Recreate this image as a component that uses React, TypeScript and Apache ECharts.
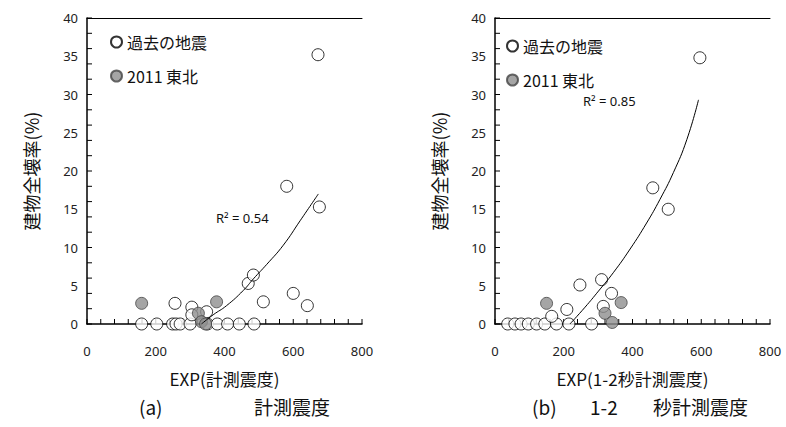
import React, { useEffect, useRef } from "react";
import * as echarts from "echarts";

// ---------- data ----------
const seriesPast = "過去の地震";
const seriesTohoku = "2011 東北";

// (a) 計測震度
const pastA: number[][] = [
  [159, 0], [203, 0], [249, 0], [259, 0], [271, 0], [300, 0], [350, 0],
  [379, 0], [409, 0], [443, 0], [486, 0],
  [256, 2.7], [305, 2.2], [305, 1.2], [348, 1.6], [469, 5.3], [484, 6.4],
  [513, 2.9], [581, 18.0], [676, 15.3], [672, 35.2], [600, 4.0], [641, 2.4],
];
const tohokuA: number[][] = [
  [159, 2.7], [324, 1.4], [377, 2.9], [333, 0.3], [345, 0],
];
const trendA: number[][] = [
  [333, 0], [367, 1.2], [406, 2.4], [455, 4.4], [484, 5.9], [523, 7.8],
  [571, 10.3], [620, 13.5], [673, 17.0],
];

// (b) 1-2 秒計測震度
const pastB: number[][] = [
  [37, 0], [58, 0], [76, 0], [97, 0], [121, 0], [145, 0], [179, 0], [215, 0], [281, 0],
  [165, 1.0], [209, 1.9], [247, 5.1], [310, 5.8], [339, 4.0], [315, 2.3],
  [459, 17.8], [504, 15.0], [596, 34.8],
];
const tohokuB: number[][] = [
  [150, 2.7], [367, 2.8], [320, 1.4], [341, 0.2],
];
const trendB: number[][] = [
  [218, 0], [262, 2.2], [301, 4.3], [344, 6.7], [393, 9.8], [441, 13.2],
  [480, 16.3], [519, 19.8], [558, 24.1], [592, 29.3],
];

// small inward tick marks of the axes
const xTickValues: number[] = [
  0, 40, 80, 120, 160, 200, 240, 280, 320, 360, 400,
  440, 480, 520, 560, 600, 640, 680, 720, 760, 800,
];
const yTickValues: number[] = [
  0, 2, 4, 6, 8, 10, 12, 14, 16, 18, 20,
  22, 24, 26, 28, 30, 32, 34, 36, 38, 40,
];

const r2A = "R² = 0.54";
const r2B = "R² = 0.85";
const xTitleA = "EXP(計測震度)";
const xTitleB = "EXP(1-2秒計測震度)";
const yTitle = "建物全壊率(%)";
const captionTagA = "(a)";
const captionA = "計測震度";
const captionTagB = "(b)";
const captionB1 = "1-2";
const captionB2 = "秒計測震度";

const X_MIN = 0, X_MAX = 800, X_INT = 200;
const Y_MIN = 0, Y_MAX = 40, Y_INT = 5;
const TICK_LEN = 5;

const CJK = "'Noto Sans CJK JP', 'Noto Sans', sans-serif";
const LAT = "'Noto Sans', 'Open Sans', sans-serif";

export default function App() {
  const ref = useRef<HTMLDivElement>(null);
  useEffect(() => {
    if (!ref.current) return;
    const chart = echarts.init(ref.current, undefined, { renderer: "svg" });

    const mainX = (gridIndex: number, name: string) => ({
      type: "value", gridIndex, position: "bottom", min: X_MIN, max: X_MAX, interval: X_INT,
      name, nameLocation: "middle", nameGap: 46,
      nameTextStyle: { fontFamily: CJK, fontSize: 17, color: "#111" },
      axisLine: { show: true, lineStyle: { color: "#000", width: 1.5 } },
      axisTick: { show: false },
      axisLabel: { margin: 20, fontFamily: LAT, fontSize: 13, color: "#222" },
      splitLine: { show: false },
    });
    const topX = (gridIndex: number) => ({
      type: "value", gridIndex, position: "top", min: X_MIN, max: X_MAX,
      axisLine: { show: true, lineStyle: { color: "#000", width: 1 } },
      axisTick: { show: false }, axisLabel: { show: false }, splitLine: { show: false },
    });
    const mainY = (gridIndex: number) => ({
      type: "value", gridIndex, position: "left", min: Y_MIN, max: Y_MAX, interval: Y_INT,
      name: yTitle, nameLocation: "middle", nameGap: 47, nameRotate: 90,
      nameTextStyle: { fontFamily: CJK, fontSize: 18, color: "#111" },
      axisLine: { show: true, lineStyle: { color: "#000", width: 1.5 } },
      axisTick: { show: false },
      axisLabel: { margin: 9, fontFamily: LAT, fontSize: 13, color: "#222" },
      splitLine: { show: false },
    });

    const pastStyle = { color: "#fff", borderColor: "#000", borderWidth: 1 };
    const tohokuStyle = { color: "#8f8f8f", borderColor: "#444", borderWidth: 1 };

    const tickSeries = (xi: number, yi: number) => [
      {
        name: "xTicks", type: "custom", xAxisIndex: xi, yAxisIndex: yi, silent: true, z: 2,
        clip: false,
        data: xTickValues.map((v) => [v, Y_MIN]),
        renderItem: (params: any, api: any) => {
          const p = api.coord([api.value(0), api.value(1)]);
          return {
            type: "line",
            shape: { x1: p[0], y1: p[1], x2: p[0], y2: p[1] - TICK_LEN },
            style: { stroke: "#000", lineWidth: 1 },
          };
        },
      },
      {
        name: "yTicks", type: "custom", xAxisIndex: xi, yAxisIndex: yi, silent: true, z: 2,
        clip: false,
        data: yTickValues.map((v) => [X_MIN, v]),
        renderItem: (params: any, api: any) => {
          const p = api.coord([api.value(0), api.value(1)]);
          return {
            type: "line",
            shape: { x1: p[0], y1: p[1], x2: p[0] + TICK_LEN, y2: p[1] },
            style: { stroke: "#000", lineWidth: 1 },
          };
        },
      },
    ];

    const mk = (xi: number, yi: number, past: number[][], toh: number[][], trend: number[][]) => [
      ...tickSeries(xi, yi),
      {
        name: seriesPast, type: "scatter", xAxisIndex: xi, yAxisIndex: yi,
        data: past, symbol: "circle", symbolSize: 12, itemStyle: pastStyle, z: 3,
      },
      {
        name: seriesTohoku, type: "scatter", xAxisIndex: xi, yAxisIndex: yi,
        data: toh, symbol: "circle", symbolSize: 12, itemStyle: tohokuStyle, z: 4,
      },
      {
        name: "trend", type: "line", xAxisIndex: xi, yAxisIndex: yi,
        data: trend, smooth: true, showSymbol: false, symbol: "none",
        lineStyle: { color: "#000", width: 1 }, z: 5, silent: true,
      },
    ];

    const legend = (left: number, top: number) => ({
      left, top, orient: "vertical", padding: 0, itemGap: 14,
      itemWidth: 11, itemHeight: 11,
      data: [seriesPast, seriesTohoku],
      textStyle: { fontFamily: CJK, fontSize: 16, color: "#111", lineHeight: 20 },
    });

    const cap = (text: string, left: number) => ({
      type: "text", left, top: 397, style: { text, font: `19px ${CJK}`, fill: "#111" },
    });

    chart.setOption({
      animation: false,
      backgroundColor: "#fff",
      grid: [
        { left: 87, top: 18, width: 275, height: 306 },
        { left: 495, top: 18, width: 275, height: 306 },
      ],
      xAxis: [mainX(0, xTitleA), topX(0), mainX(1, xTitleB), topX(1)],
      yAxis: [mainY(0), mainY(1)],
      legend: [legend(110, 32), legend(506, 36)],
      series: [...mk(0, 0, pastA, tohokuA, trendA), ...mk(2, 1, pastB, tohokuB, trendB)],
      graphic: [
        { type: "text", left: 216, top: 211, style: { text: r2A, font: `13px ${LAT}`, fill: "#111" } },
        { type: "text", left: 583, top: 94, style: { text: r2B, font: `13px ${LAT}`, fill: "#111" } },
        cap(captionTagA, 139),
        cap(captionA, 254),
        cap(captionTagB, 532),
        cap(captionB1, 590),
        cap(captionB2, 653),
      ],
    });
    return () => chart.dispose();
  }, []);
  return (
    <div
      ref={ref}
      style={{ position: "fixed", left: 0, top: 0, width: 786, height: 427, background: "#fff" }}
    />
  );
}
